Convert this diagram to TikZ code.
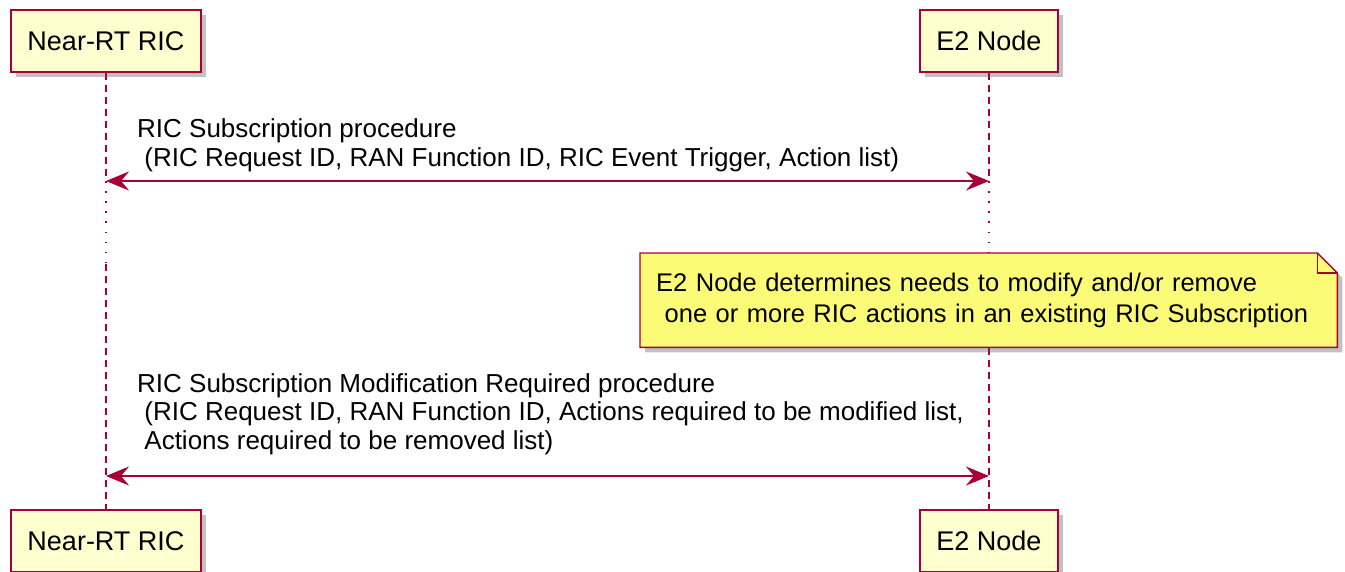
\documentclass[tikz,border=0pt]{standalone}
\usepackage{fontspec}
\setmainfont{Liberation Sans}
\usetikzlibrary{arrows.meta,shadows,calc,backgrounds}
\definecolor{ruby}{HTML}{A80036}
\definecolor{partfill}{HTML}{FEFECE}
\definecolor{notefill}{HTML}{FBFB77}

\begin{document}
\begin{tikzpicture}[x=1pt,y=-1pt]
    \tikzset{
        participant/.style={draw=ruby, line width=1.6pt, fill=partfill,
            minimum width=#1, minimum height=62pt, inner sep=0pt,
            font=\fontsize{27}{30}\selectfont,
            drop shadow={shadow xshift=5pt, shadow yshift=-5pt, opacity=0.35, fill=black!70}},
        lifeline/.style={ruby, line width=1.6pt, dash pattern=on 7pt off 5pt},
        delayline/.style={ruby, line width=1.6pt, dash pattern=on 1.6pt off 8.5pt},
        message/.style={ruby, line width=1.8pt,
            {Stealth[length=23pt,width=19pt,inset=8pt]}-{Stealth[length=23pt,width=19pt,inset=8pt]}},
        msgtext/.style={anchor=south west, align=left, inner sep=0pt,
            font=\fontsize{26}{28.5}\selectfont},
        notetext/.style={anchor=north west, align=left, text width=665pt,
            inner xsep=16pt, inner ysep=0pt, minimum height=94pt,
            font=\fontsize{25.5}{31}\selectfont},
        notebox/.style={draw=ruby, line width=1.4pt, fill=notefill,
            drop shadow={shadow xshift=5pt, shadow yshift=-5pt, opacity=0.35, fill=black!70}}
    }
    \useasboundingbox (0,0) rectangle (1345,571);
    \node[participant=190pt] (nrtTop) at (106,41) {Near-RT RIC};
    \node[participant=138pt] (e2Top) at (989,41) {E2 Node};
    \node[participant=190pt] (nrtBot) at (106,541) {Near-RT RIC};
    \node[participant=138pt] (e2Bot) at (989,541) {E2 Node};
    \coordinate (nrtSub) at (106,181);
    \coordinate (e2Sub) at (989,181);
    \coordinate (nrtWake) at (106,264);
    \coordinate (e2Wake) at (989,264);
    \coordinate (nrtMod) at (106,476);
    \coordinate (e2Mod) at (989,476);
    \node[notetext] (note) at (640,253) {E2 Node determines needs to modify and/or remove\\\ one or more RIC actions in an existing RIC Subscription};
    \begin{scope}[on background layer]
        \draw[lifeline] (nrtTop.south) -- (nrtSub);
        \draw[delayline] (nrtSub) -- (nrtWake);
        \draw[lifeline] (nrtWake) -- (nrtBot.north);
        \draw[lifeline] (e2Top.south) -- (e2Sub);
        \draw[delayline] (e2Sub) -- (e2Wake);
        \draw[lifeline] (e2Wake) -- (e2Bot.north);
        \path[notebox] (note.north west) -- ($(note.north east)+(-20,0)$)
            -- ($(note.north east)+(0,20)$) -- (note.south east) -- (note.south west) -- cycle;
        \draw[ruby, line width=1.4pt] ($(note.north east)+(-20,0)$) |- ($(note.north east)+(0,20)$);
    \end{scope}
    \draw[message] (nrtSub) -- (e2Sub);
    \draw[message] (nrtMod) -- (e2Mod);
    \node[msgtext] (subLabel) at (137,172) {RIC Subscription procedure\\\ (RIC Request ID, RAN Function ID, RIC Event Trigger, Action list)};
    \node[msgtext] (modLabel) at (137,455) {RIC Subscription Modification Required procedure\\\ (RIC Request ID, RAN Function ID, Actions required to be modified list,\\\ Actions required to be removed list)};
\end{tikzpicture}
\end{document}
